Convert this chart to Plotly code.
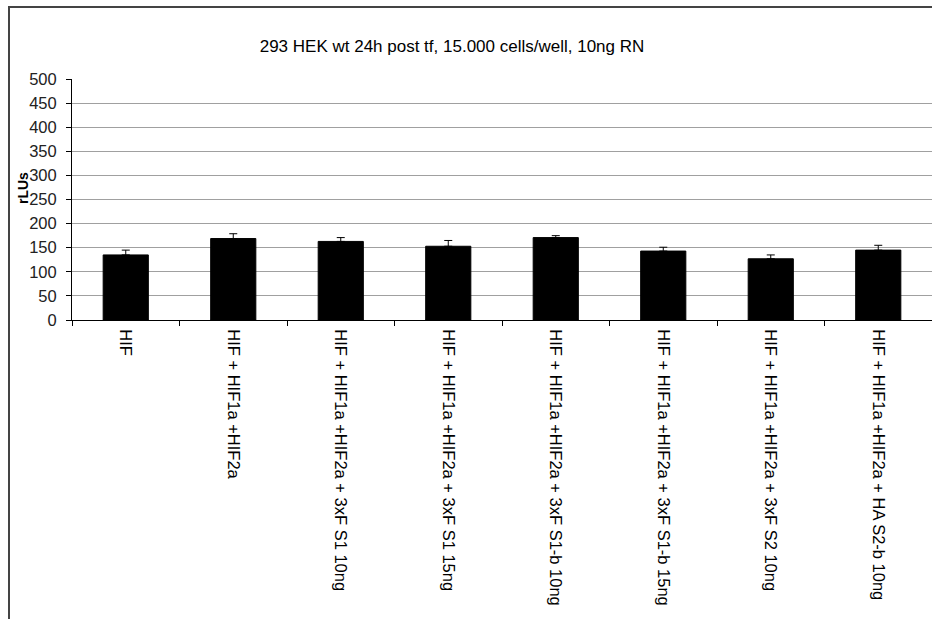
import plotly.graph_objects as go

categories = [
    "HIF",
    "HIF + HIF1a +HIF2a",
    "HIF + HIF1a +HIF2a + 3xF S1 10ng",
    "HIF + HIF1a +HIF2a + 3xF S1 15ng",
    "HIF + HIF1a +HIF2a + 3xF S1-b 10ng",
    "HIF + HIF1a +HIF2a + 3xF S1-b 15ng",
    "HIF + HIF1a +HIF2a + 3xF S2 10ng",
    "HIF + HIF1a +HIF2a + HA S2-b 10ng",
]
values = [135, 169, 163, 153, 171, 143, 127, 145]
errors = [10, 10, 8, 12, 4, 8, 8, 10]
y_ticks = [0, 50, 100, 150, 200, 250, 300, 350, 400, 450, 500]

FONT = "Liberation Sans, Arial, sans-serif"

fig = go.Figure(
    go.Bar(
        x=categories,
        y=values,
        marker=dict(color="black", line=dict(color="black", width=1)),
        error_y=dict(type="data", array=errors, arrayminus=[0] * len(errors),
                     symmetric=False, color="black", thickness=1, width=4),
    )
)

# plot area: x 72..932, y 79..320 (px)
W, H = 932, 619
L, R, T, B = 72, 0, 79, 299
pw = W - L - R
ph = H - T - B

def px_x(x):
    return (x - L) / pw

def px_y(y):
    return (H - B - y) / ph

fig.update_layout(
    width=W, height=H,
    margin=dict(l=L, r=R, t=T, b=B, pad=0),
    paper_bgcolor="white",
    plot_bgcolor="white",
    showlegend=False,
    bargap=0.58,
    font=dict(family=FONT, color="black", size=14),
    title=dict(
        text="293 HEK wt 24h post tf, 15.000 cells/well, 10ng RN",
        x=452 / W, xanchor="center",
        y=1 - 46 / H, yanchor="middle",
        font=dict(family=FONT, size=17, color="black"),
    ),
    xaxis=dict(
        type="category",
        showgrid=False,
        showline=True, linecolor="black", linewidth=1,
        ticks="outside", ticklen=5, tickcolor="black", tickson="boundaries",
        tickangle=90,
        ticklabelstandoff=5,
        tickfont=dict(family=FONT, size=16.5, color="black"),
        range=[-0.5, 7.5],
    ),
    yaxis=dict(
        range=[0, 500],
        tickvals=y_ticks,
        showgrid=True, gridcolor="#a0a0a0", gridwidth=1,
        showline=True, linecolor="black", linewidth=1,
        ticks="outside", ticklen=5, tickcolor="black",
        ticklabelstandoff=6,
        tickfont=dict(family=FONT, size=16.5, color="#222"),
        zeroline=False,
    ),
    annotations=[
        dict(text="<b>rLUs</b>", xref="paper", yref="paper",
             x=px_x(23), y=px_y(188), showarrow=False, textangle=-90,
             xanchor="center", yanchor="middle",
             font=dict(family=FONT, size=14, color="black")),
    ],
    shapes=[
        dict(type="line", xref="paper", yref="paper",
             x0=px_x(9), x1=px_x(940), y0=px_y(7), y1=px_y(7),
             line=dict(color="#444", width=2)),
        dict(type="line", xref="paper", yref="paper",
             x0=px_x(9), x1=px_x(9), y0=px_y(6), y1=px_y(630),
             line=dict(color="#444", width=2)),
    ],
)

fig.write_html("out.html")
